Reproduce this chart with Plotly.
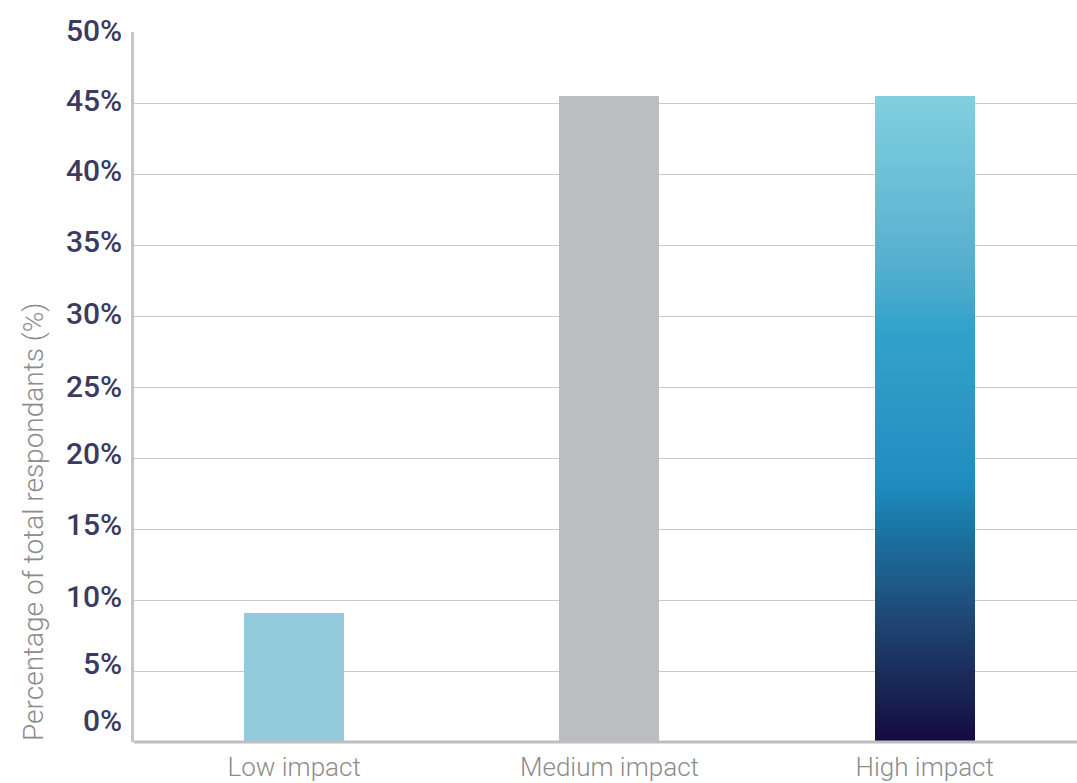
import plotly.graph_objects as go

categories = ["Low impact", "Medium impact", "High impact"]
values = [9.1, 45.5, 45.5]
bar_colors = ["#93cbdc", "#bcbdc1", None]  # last bar drawn with gradient
tick_values = [0, 5, 10, 15, 20, 25, 30, 35, 40, 45, 50]
tick_labels = ["0%", "5%", "10%", "15%", "20%", "25%", "30%", "35%", "40%", "45%", "50%"]
tick_label_shift = [22, 8, 4, 5, 5, 1, 3, 4, 4, 3, 2]  # px above gridline
y_title = "Percentage of total respondants (%)"

# gradient stops for the high-impact bar (position from bottom 0..1, colour)
grad_stops = [
    (0.00, (20, 10, 66)),
    (0.10, (26, 42, 90)),
    (0.20, (31, 74, 120)),
    (0.32, (26, 114, 160)),
    (0.40, (31, 140, 192)),
    (0.50, (43, 149, 197)),
    (0.645, (50, 163, 203)),
    (0.675, (64, 168, 203)),
    (0.745, (88, 176, 208)),
    (1.00, (128, 208, 223)),
]

def interp(t):
    for (p0, c0), (p1, c1) in zip(grad_stops[:-1], grad_stops[1:]):
        if p0 <= t <= p1:
            f = (t - p0) / (p1 - p0) if p1 > p0 else 0
            return "rgb(%d,%d,%d)" % tuple(round(a + (b - a) * f) for a, b in zip(c0, c1))
    return "rgb(%d,%d,%d)" % grad_stops[-1][1]

BAR_W = 0.317
fig = go.Figure()
fig.add_trace(go.Bar(
    x=categories[:2], y=values[:2], marker_color=bar_colors[:2],
    marker_line_width=0, width=BAR_W, showlegend=False, hoverinfo="skip",
))

# gradient bar made of thin stacked slices
N = 160
hv = values[2]
seg = hv / N
fig.add_trace(go.Bar(
    x=[categories[2]] * N,
    y=[seg * 1.02] * N,
    base=[seg * i for i in range(N)],
    marker_color=[interp((i + 0.5) / N) for i in range(N)],
    marker_line_width=0, width=BAR_W, showlegend=False, hoverinfo="skip",
))

annotations = []
for v, lab, sh in zip(tick_values, tick_labels, tick_label_shift):
    annotations.append(dict(
        x=0, xref="paper", y=v, yref="y", text=lab, showarrow=False,
        xanchor="right", yanchor="middle", xshift=-10, yshift=sh,
        font=dict(family="Roboto", size=30, color="#3b3a5f", weight=500),
    ))
annotations.append(dict(
    x=0, xref="paper", y=(742 - 522) / 710, yref="paper", text=y_title,
    showarrow=False, textangle=-90, xanchor="center", yanchor="middle",
    xshift=-101, font=dict(family="Roboto", size=28, color="#8c8c8c", weight=300),
))

fig.update_layout(
    width=1077, height=783,
    margin=dict(l=134, r=0, t=32, b=41),
    paper_bgcolor="white", plot_bgcolor="white",
    barmode="overlay", bargap=0,
    annotations=annotations,
    xaxis=dict(
        type="category", categoryorder="array", categoryarray=categories,
        range=[-0.508, 2.483],
        showgrid=False, showline=False, zeroline=False, ticks="",
        tickfont=dict(family="Roboto", size=26, color="#8c8c8c", weight=300),
        ticklabelstandoff=7,
    ),
    yaxis=dict(
        range=[0, 50], tickvals=tick_values, showticklabels=False,
        showgrid=True, gridcolor="#c9c9cc", gridwidth=1,
        zeroline=False, showline=True, linecolor="#c6c6ca", linewidth=3,
        ticks="",
    ),
    shapes=[dict(type="line", xref="paper", yref="paper", x0=0, x1=1, y0=0, y1=0,
                 line=dict(color="#bdbdc2", width=3))],
)

fig.write_html("out.html")
